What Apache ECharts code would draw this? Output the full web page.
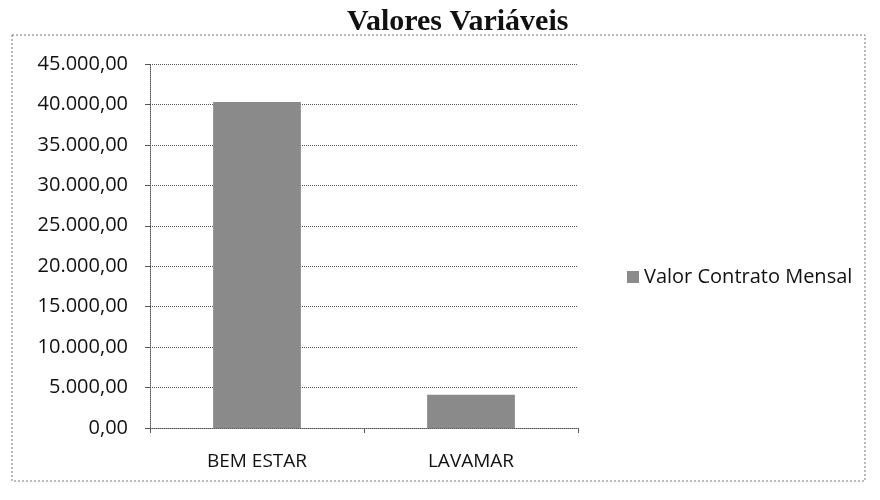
<!DOCTYPE html>
<html>
<head>
<meta charset="utf-8">
<script src="https://cdn.jsdelivr.net/npm/echarts@6/dist/echarts.min.js"></script>
<style>
  html, body { margin: 0; padding: 0; background: #fff; }
  #chart { width: 880px; height: 500px; }
</style>
</head>
<body>
<div id="chart"></div>
<script>
// data
const categories = ['BEM ESTAR', 'LAVAMAR'];
const valorContratoMensal = [40300, 4100];
const seriesName = 'Valor Contrato Mensal';

const chart = echarts.init(document.getElementById('chart'));

// 40300 -> "40.300,00"
function fmtBR(v) {
  const parts = v.toFixed(2).split('.');
  parts[0] = parts[0].replace(/\B(?=(\d{3})+(?!\d))/g, '.');
  return parts.join(',');
}

const labelFont = '"Open Sans", "Noto Sans", sans-serif';

const option = {
  animation: false,
  graphic: [
    {
      type: 'rect',
      shape: { x: 12, y: 35, width: 853, height: 446 },
      style: { fill: 'none', stroke: '#777', lineWidth: 1, lineDash: [2, 2] },
      z: 0
    }
  ],
  title: {
    text: 'Valores Variáveis',
    left: 347,
    top: 7,
    padding: 0,
    textStyle: {
      fontFamily: '"Liberation Serif", "DejaVu Serif", serif',
      fontWeight: 'bold',
      fontSize: 30,
      color: '#111'
    }
  },
  legend: {
    orient: 'vertical',
    left: 622,
    top: 262,
    itemWidth: 12,
    itemHeight: 12,
    itemGap: 6,
    textStyle: { fontFamily: labelFont, fontSize: 20, color: '#111' },
    data: [{ name: seriesName, icon: 'rect' }]
  },
  grid: { left: 150, right: 302, top: 64, bottom: 72 },
  xAxis: {
    type: 'category',
    data: categories,
    axisLine: { lineStyle: { color: '#555', type: 'dotted' } },
    axisTick: { show: true, length: 5, lineStyle: { color: '#555' } },
    axisLabel: {
      margin: 24,
      fontFamily: labelFont,
      fontSize: 19,
      color: '#111'
    }
  },
  yAxis: {
    type: 'value',
    min: 0,
    max: 45000,
    interval: 5000,
    axisLine: { show: true, lineStyle: { color: '#555', type: 'dotted' } },
    axisTick: { show: true, length: 5, lineStyle: { color: '#555' } },
    splitLine: { lineStyle: { color: '#555', type: 'dotted' } },
    axisLabel: {
      margin: 22,
      fontFamily: labelFont,
      fontSize: 20,
      color: '#111',
      formatter: fmtBR
    }
  },
  series: [
    {
      name: seriesName,
      type: 'bar',
      data: valorContratoMensal,
      barWidth: '41%',
      itemStyle: { color: '#8a8a8a' }
    }
  ]
};

chart.setOption(option);
</script>
</body>
</html>
